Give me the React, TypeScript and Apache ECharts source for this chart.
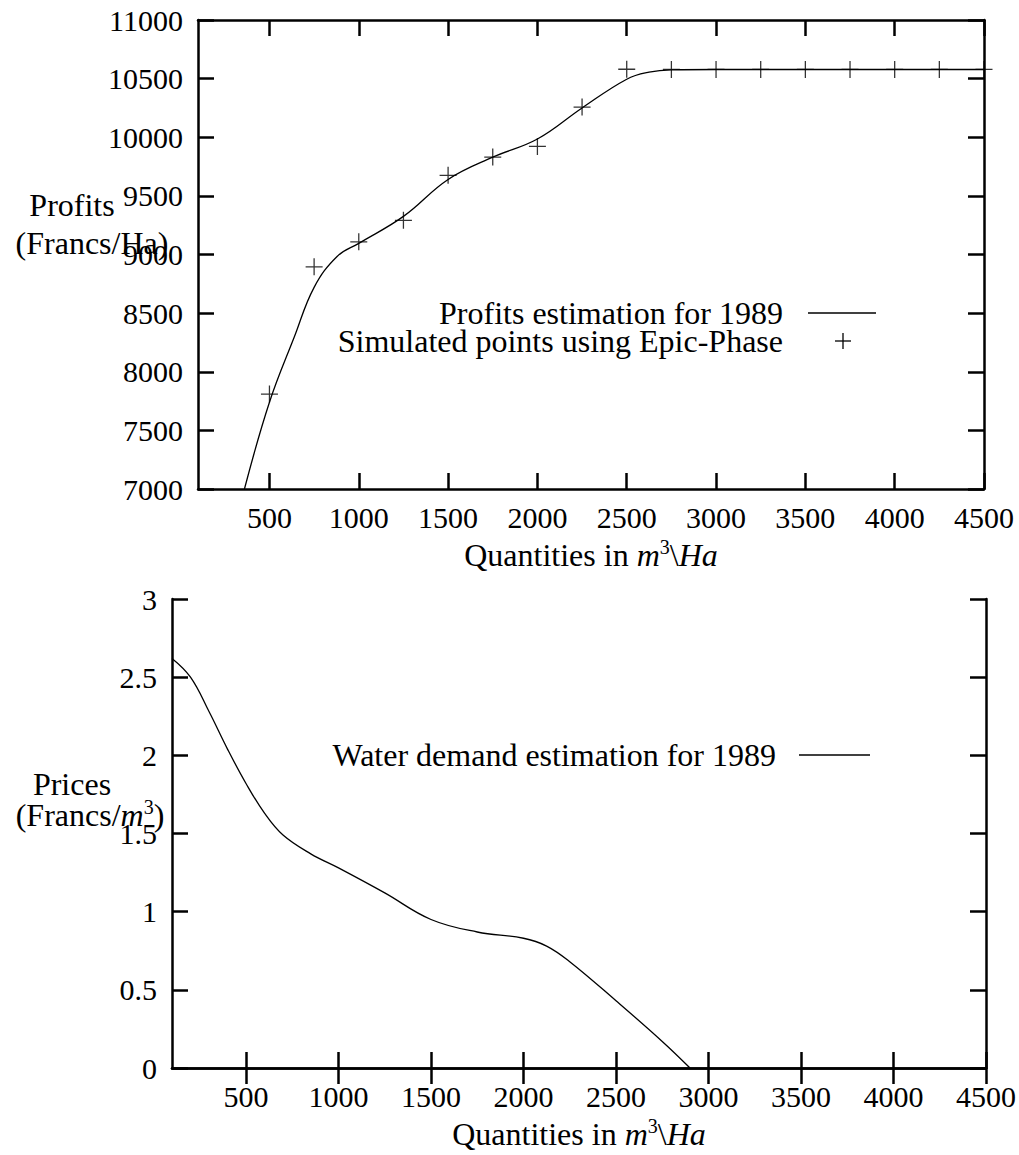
import React, { useEffect, useRef } from 'react';
import * as echarts from 'echarts';

// ---- data ----
const xTickValues = [500, 1000, 1500, 2000, 2500, 3000, 3500, 4000, 4500];

const profitCurve: [number, number][] = [
  [360, 7000], [500, 7740], [640, 8300], [750, 8720], [880, 8985], [1000, 9095],
  [1250, 9325], [1500, 9640], [1750, 9830], [2000, 9985], [2250, 10250], [2500, 10495],
  [2625, 10555], [2750, 10575], [3000, 10578], [3500, 10578], [4000, 10578], [4500, 10578],
];

const simulatedPoints: [number, number][] = [
  [500, 7810], [750, 8895], [1000, 9108], [1250, 9292], [1500, 9675], [1750, 9831],
  [2000, 9922], [2250, 10257], [2500, 10580], [2750, 10578], [3000, 10578], [3250, 10578],
  [3500, 10578], [3750, 10578], [4000, 10578], [4250, 10578], [4500, 10578],
];

const demandCurve: [number, number][] = [
  [100, 2.62], [200, 2.5], [300, 2.28], [400, 2.04], [500, 1.82], [600, 1.63],
  [700, 1.49], [850, 1.37], [1000, 1.28], [1250, 1.12], [1500, 0.95], [1750, 0.87],
  [2000, 0.83], [2125, 0.78], [2250, 0.68], [2500, 0.43], [2750, 0.17], [2900, 0.0],
];

const FONT = "'Liberation Serif', 'Times New Roman', serif";
const TICK_FS = 30;
const TEXT_FS = 32;

const nameRich = {
  n: { fontFamily: FONT, fontSize: TEXT_FS, color: '#000', lineHeight: 36 },
  i: { fontFamily: FONT, fontSize: TEXT_FS, fontStyle: 'italic', color: '#000', lineHeight: 36 },
  s: { fontFamily: FONT, fontSize: 20, color: '#000', verticalAlign: 'top', lineHeight: 36 },
};

const plain = (v: number) => String(v);

function xAxes(grid: number) {
  const common = {
    gridIndex: grid,
    type: 'value',
    min: 100,
    max: 4500,
    splitLine: { show: false },
    axisLine: { show: true, lineStyle: { color: '#000', width: 2.5 } },
    axisTick: { show: true, inside: true, length: 16, lineStyle: { color: '#000', width: 2.5 }, customValues: xTickValues },
  };
  return [
    {
      ...common,
      position: 'bottom',
      axisLabel: {
        show: true, customValues: xTickValues, margin: 13, fontSize: TICK_FS, fontFamily: FONT, color: '#000', lineHeight: 30,
        formatter: plain,
      },
      name: '{n|Quantities in }{i|m}{s|3}{n|\\}{i|Ha}',
      nameLocation: 'middle',
      nameGap: 48,
      nameTextStyle: { fontFamily: FONT, fontSize: TEXT_FS, color: '#000', rich: nameRich },
    },
    {
      ...common,
      position: 'top',
      axisLabel: { show: false },
    },
  ];
}

function yAxes(grid: number, min: number, max: number, interval: number) {
  const common = {
    gridIndex: grid,
    type: 'value',
    min,
    max,
    interval,
    splitLine: { show: false },
    axisLine: { show: true, lineStyle: { color: '#000', width: 2.5 } },
    axisTick: { show: true, inside: true, length: 16, lineStyle: { color: '#000', width: 2.5 } },
  };
  return [
    {
      ...common,
      position: 'left',
      axisLabel: { show: true, margin: 15, fontSize: TICK_FS, fontFamily: FONT, color: '#000', formatter: plain },
    },
    { ...common, position: 'right', axisLabel: { show: false } },
  ];
}

const plusPath = 'path://M7.4,0H8.6V7.4H16V8.6H8.6V16H7.4V8.6H0V7.4H7.4Z';

function txt(text: string, x: number, y: number, align: string, rich?: any, lineHeight?: number) {
  return {
    type: 'text',
    x,
    y,
    style: {
      text,
      fontFamily: FONT,
      fontSize: TEXT_FS,
      fill: '#000',
      align,
      verticalAlign: 'middle',
      lineHeight,
      rich,
    },
  };
}

function seg(x1: number, y1: number, x2: number, y2: number, w = 1.3) {
  return { type: 'line', shape: { x1, y1, x2, y2 }, style: { stroke: '#000', lineWidth: w } };
}

export default function App() {
  const ref = useRef<HTMLDivElement>(null);
  useEffect(() => {
    if (!ref.current) return;
    const chart = echarts.init(ref.current, undefined, { renderer: 'svg' });
    const option: any = {
      animation: false,
      backgroundColor: '#fff',
      textStyle: { fontFamily: FONT },
      grid: [
        { left: 198, top: 20, width: 786, height: 469 },
        { left: 172, top: 599, width: 815, height: 469 },
      ],
      xAxis: [...xAxes(0), ...xAxes(1)],
      yAxis: [...yAxes(0, 7000, 11000, 500), ...yAxes(1, 0, 3, 0.5)],
      series: [
        {
          name: 'Profits estimation for 1989',
          type: 'line',
          xAxisIndex: 0,
          yAxisIndex: 0,
          data: profitCurve,
          smooth: 0.4,
          symbol: 'none',
          lineStyle: { color: '#000', width: 1.3 },
        },
        {
          name: 'Simulated points using Epic-Phase',
          type: 'scatter',
          xAxisIndex: 0,
          yAxisIndex: 0,
          data: simulatedPoints,
          symbol: plusPath,
          symbolSize: 17,
          clip: false,
          itemStyle: { color: '#000' },
        },
        {
          name: 'Water demand estimation for 1989',
          type: 'line',
          xAxisIndex: 2,
          yAxisIndex: 2,
          data: demandCurve,
          smooth: 0.4,
          symbol: 'none',
          lineStyle: { color: '#000', width: 1.3 },
        },
      ],
      graphic: [
        txt('Profits', 72, 205, 'center'),
        txt('(Francs/Ha)', 92, 243, 'center'),
        txt('Prices', 72, 784, 'center'),
        txt('(Francs/{i|m}{s|3})', 90, 815, 'center', nameRich),
        txt('Profits estimation for 1989', 783, 313, 'right', undefined, 27),
        txt('Simulated points using Epic-Phase', 783, 341, 'right', undefined, 27),
        seg(808, 313, 876, 313),
        seg(835, 341, 851, 341),
        seg(843, 333, 843, 349),
        txt('Water demand estimation for 1989', 776, 755, 'right'),
        seg(799, 755, 870, 755),
      ],
    };
    chart.setOption(option);
    return () => chart.dispose();
  }, []);
  return (
    <div
      ref={ref}
      style={{ position: 'absolute', left: 0, top: 0, width: 1019, height: 1155 }}
    />
  );
}
